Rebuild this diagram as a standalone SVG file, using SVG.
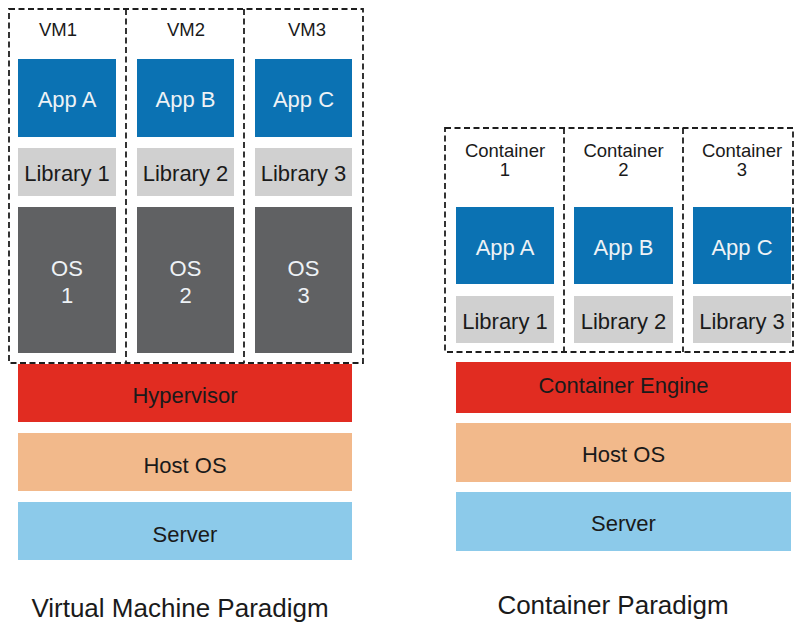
<svg xmlns="http://www.w3.org/2000/svg" width="795" height="625" viewBox="0 0 795 625">
<style>
text{font-family:"Liberation Sans",Arial,sans-serif;text-anchor:middle;dominant-baseline:central}
.dash{fill:none;stroke:#1e1e1e;stroke-width:1.8;stroke-dasharray:6 3.5}
.app{fill:#0b72b3}
.lib{fill:#d0d0d0}
.os{fill:#606163}
.eng{fill:#e12c21}
.host{fill:#f2b98b}
.srv{fill:#8ccaea}
.wt{fill:#eef2f6;font-size:22px}
.dk{fill:#1a1a1a;font-size:22px}
.lbl{fill:#1a1a1a;font-size:18.5px}
.ttl{fill:#1a1a1a;font-size:26px}
</style>
<rect width="795" height="625" fill="#ffffff"/>

<!-- dashed frames -->
<g id="vm-frames">
<rect class="dash" x="9" y="9" width="354" height="354"/>
<path class="dash" d="M126 9V363M244 9V363"/>
</g>
<g id="container-frames">
<rect class="dash" x="445" y="128" width="348" height="224"/>
<path class="dash" d="M564 128V352M683 128V352"/>
</g>

<!-- VM paradigm -->
<g id="vm1">
<text class="lbl" x="58" y="29">VM1</text>
<rect class="app" x="18" y="59" width="98" height="78"/><text class="wt" x="67" y="99">App A</text>
<rect class="lib" x="18" y="148" width="98" height="48"/><text class="dk" x="67" y="173">Library 1</text>
<rect class="os" x="18" y="207" width="98" height="146"/><text class="wt" x="67" y="268">OS</text><text class="wt" x="67" y="295">1</text>
</g>
<g id="vm2">
<text class="lbl" x="186" y="29">VM2</text>
<rect class="app" x="137" y="59" width="97" height="78"/><text class="wt" x="185.5" y="99">App B</text>
<rect class="lib" x="137" y="148" width="97" height="48"/><text class="dk" x="185.5" y="173">Library 2</text>
<rect class="os" x="137" y="207" width="97" height="146"/><text class="wt" x="185.5" y="268">OS</text><text class="wt" x="185.5" y="295">2</text>
</g>
<g id="vm3">
<text class="lbl" x="307" y="29">VM3</text>
<rect class="app" x="255" y="59" width="97" height="78"/><text class="wt" x="303.5" y="99">App C</text>
<rect class="lib" x="255" y="148" width="97" height="48"/><text class="dk" x="303.5" y="173">Library 3</text>
<rect class="os" x="255" y="207" width="97" height="146"/><text class="wt" x="303.5" y="268">OS</text><text class="wt" x="303.5" y="295">3</text>
</g>
<g id="hypervisor"><rect class="eng" x="18" y="364" width="334" height="58"/><text class="dk" x="185" y="395">Hypervisor</text></g>
<g id="vm-hostos"><rect class="host" x="18" y="433" width="334" height="58"/><text class="dk" x="185" y="465">Host OS</text></g>
<g id="vm-server"><rect class="srv" x="18" y="502" width="334" height="58"/><text class="dk" x="185" y="534">Server</text></g>
<text class="ttl" x="180" y="608">Virtual Machine Paradigm</text>

<!-- Container paradigm -->
<g id="container1">
<text class="lbl" x="505" y="150">Container</text><text class="lbl" x="505" y="169">1</text>
<rect class="app" x="456" y="207" width="98" height="77"/><text class="wt" x="505" y="247">App A</text>
<rect class="lib" x="456" y="296" width="98" height="47"/><text class="dk" x="505" y="321">Library 1</text>
</g>
<g id="container2">
<text class="lbl" x="623.5" y="150">Container</text><text class="lbl" x="623.5" y="169">2</text>
<rect class="app" x="574" y="207" width="99" height="77"/><text class="wt" x="623.5" y="247">App B</text>
<rect class="lib" x="574" y="296" width="99" height="47"/><text class="dk" x="623.5" y="321">Library 2</text>
</g>
<g id="container3">
<text class="lbl" x="742" y="150">Container</text><text class="lbl" x="742" y="169">3</text>
<rect class="app" x="693" y="207" width="98" height="77"/><text class="wt" x="742" y="247">App C</text>
<rect class="lib" x="693" y="296" width="98" height="47"/><text class="dk" x="742" y="321">Library 3</text>
</g>
<g id="container-engine"><rect class="eng" x="456" y="362" width="335" height="51"/><text class="dk" x="623.5" y="385">Container Engine</text></g>
<g id="ct-hostos"><rect class="host" x="456" y="423" width="335" height="59"/><text class="dk" x="623.5" y="454">Host OS</text></g>
<g id="ct-server"><rect class="srv" x="456" y="492" width="335" height="59"/><text class="dk" x="623.5" y="523">Server</text></g>
<text class="ttl" x="613" y="605">Container Paradigm</text>
</svg>
